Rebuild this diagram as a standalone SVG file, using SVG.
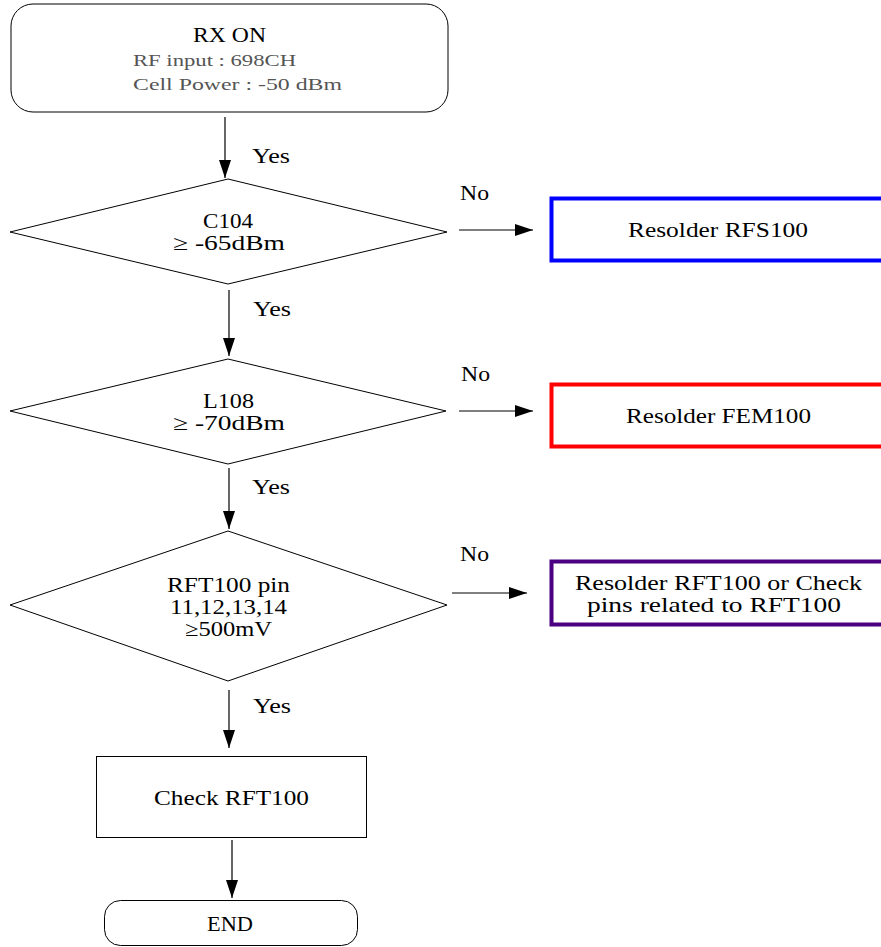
<svg xmlns="http://www.w3.org/2000/svg" width="881" height="947" viewBox="0 0 881 947">
<style>
text{font-family:"Liberation Serif","DejaVu Serif",serif;fill:#000}
.t{font-size:21px;text-anchor:middle}
.s{font-size:16px;fill:#555}
.l{font-size:20px}
.box{fill:#fff;stroke:#000;stroke-width:1}
.c{stroke:#000;stroke-width:1.2;fill:none;marker-end:url(#ah)}
</style>
<defs>
<marker id="ah" viewBox="0 0 18 12" refX="18" refY="6" markerWidth="18" markerHeight="12" markerUnits="userSpaceOnUse" orient="auto">
<path d="M0,0 L18,6 L0,12 Z" fill="#000"/>
</marker>
</defs>
<rect width="881" height="947" fill="#fff"/>
<g id="start">
<rect class="box" x="11" y="4" width="437" height="108" rx="22"/>
<text class="t" x="229.5" y="42" textLength="73" lengthAdjust="spacingAndGlyphs">RX ON</text>
<text class="s" x="133" y="66" textLength="163" lengthAdjust="spacingAndGlyphs">RF input : 698CH</text>
<text class="s" x="133" y="90" textLength="209" lengthAdjust="spacingAndGlyphs">Cell Power : -50 dBm</text>
</g>
<g id="d1">
<polygon class="box" points="10,232 228,179 447,232 228,284"/>
<text class="t" x="228" y="228" textLength="50" lengthAdjust="spacingAndGlyphs">C104</text>
<text class="t" x="229" y="250" textLength="112" lengthAdjust="spacingAndGlyphs">≥ -65dBm</text>
</g>
<g id="r1">
<rect x="551.5" y="198.5" width="335" height="62" fill="#fff" stroke="#0000ff" stroke-width="4"/>
<text class="t" x="718" y="237" textLength="180" lengthAdjust="spacingAndGlyphs">Resolder RFS100</text>
</g>
<g id="d2">
<polygon class="box" points="10,411 228,359 446,411 228,464"/>
<text class="t" x="228.5" y="408" textLength="51" lengthAdjust="spacingAndGlyphs">L108</text>
<text class="t" x="229" y="430" textLength="112" lengthAdjust="spacingAndGlyphs">≥ -70dBm</text>
</g>
<g id="r2">
<rect x="551.5" y="384.5" width="335" height="62" fill="#fff" stroke="#ff0000" stroke-width="4"/>
<text class="t" x="718.5" y="423" textLength="185" lengthAdjust="spacingAndGlyphs">Resolder FEM100</text>
</g>
<g id="d3">
<polygon class="box" points="10,605 228,531 447,605 228,681"/>
<text class="t" x="228.5" y="592" textLength="123" lengthAdjust="spacingAndGlyphs">RFT100 pin</text>
<text class="t" x="228.5" y="614" textLength="117" lengthAdjust="spacingAndGlyphs">11,12,13,14</text>
<text class="t" x="228.5" y="636" textLength="87" lengthAdjust="spacingAndGlyphs">≥500mV</text>
</g>
<g id="r3">
<rect x="551.5" y="561.5" width="335" height="63" fill="#fff" stroke="#4b0082" stroke-width="4"/>
<text class="t" x="718.5" y="590" textLength="287" lengthAdjust="spacingAndGlyphs">Resolder RFT100 or Check</text>
<text class="t" x="714" y="612" textLength="254" lengthAdjust="spacingAndGlyphs">pins related to RFT100</text>
</g>
<g id="check">
<rect class="box" x="96.5" y="756.5" width="270" height="81"/>
<text class="t" x="231.5" y="805" textLength="155" lengthAdjust="spacingAndGlyphs">Check RFT100</text>
</g>
<g id="end">
<rect class="box" x="104.5" y="900.5" width="253" height="45" rx="16"/>
<text class="t" x="230" y="931" textLength="46" lengthAdjust="spacingAndGlyphs">END</text>
</g>
<g id="connectors">
<line class="c" x1="225" y1="117" x2="225" y2="178"/>
<line class="c" x1="229" y1="290" x2="229" y2="356"/>
<line class="c" x1="229" y1="468" x2="229" y2="529"/>
<line class="c" x1="229" y1="690" x2="229" y2="748"/>
<line class="c" x1="232" y1="840" x2="232" y2="898"/>
<line class="c" x1="459" y1="230" x2="533" y2="230"/>
<line class="c" x1="459" y1="411" x2="533" y2="411"/>
<line class="c" x1="452" y1="593" x2="527" y2="593"/>
<text class="l" x="252" y="163" textLength="38" lengthAdjust="spacingAndGlyphs">Yes</text>
<text class="l" x="253" y="316" textLength="38" lengthAdjust="spacingAndGlyphs">Yes</text>
<text class="l" x="252" y="494" textLength="38" lengthAdjust="spacingAndGlyphs">Yes</text>
<text class="l" x="253" y="713" textLength="38" lengthAdjust="spacingAndGlyphs">Yes</text>
<text class="l" x="460" y="200" textLength="29" lengthAdjust="spacingAndGlyphs">No</text>
<text class="l" x="461" y="381" textLength="29" lengthAdjust="spacingAndGlyphs">No</text>
<text class="l" x="460" y="561" textLength="29" lengthAdjust="spacingAndGlyphs">No</text>
</g>
</svg>
